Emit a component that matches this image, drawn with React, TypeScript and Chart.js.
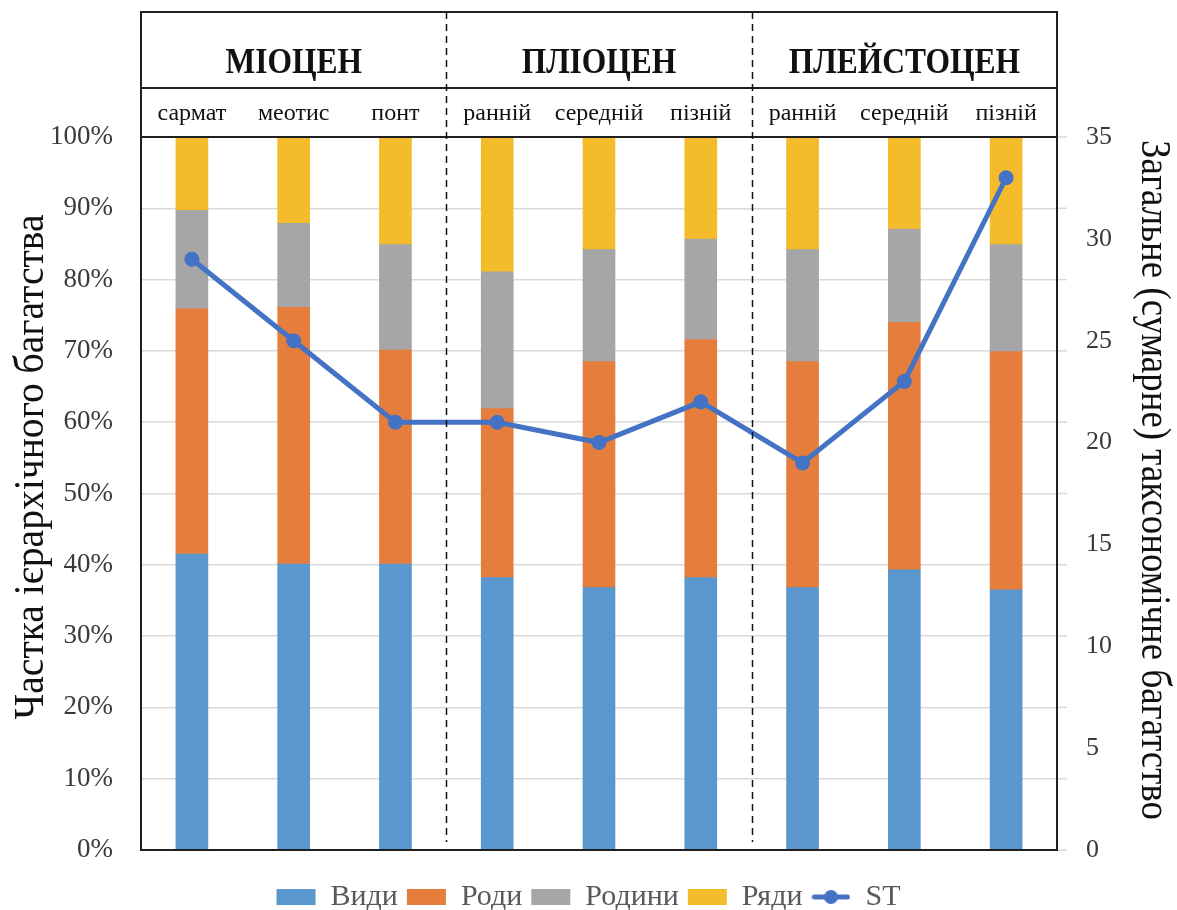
import React, { useEffect, useRef } from 'react';
import { Chart, registerables } from 'chart.js';

Chart.register(...registerables);

// ---------- data ----------
const categories = ['сармат', 'меотис', 'понт', 'ранній', 'середній', 'пізній', 'ранній', 'середній', 'пізній'];
const eras = ['МІОЦЕН', 'ПЛІОЦЕН', 'ПЛЕЙСТОЦЕН'];
const eraSizes = [3, 3, 3];

const vydy = [41.5, 40.1, 40.1, 38.2, 36.8, 38.2, 36.8, 39.3, 36.5];
const rody = [34.4, 36.0, 30.0, 23.7, 31.7, 33.4, 31.7, 34.7, 33.4];
const rodyny = [13.8, 11.8, 14.8, 19.2, 15.7, 14.1, 15.7, 13.1, 15.0];
const riady = [10.3, 12.1, 15.1, 18.9, 15.8, 14.3, 15.8, 12.9, 15.1];
const stValues = [29, 25, 21, 21, 20, 22, 19, 23, 33];

const seriesNames = ['Види', 'Роди', 'Родини', 'Ряди', 'ST'];
const leftTitle = 'Частка ієрархічного багатства';
const rightTitle = 'Загальне (сумарне) таксономічне багатство';

// ---------- styles ----------
const SERIF = '"Liberation Serif", "Times New Roman", serif';
const COLORS = ['#5B97CF', '#E57E3C', '#A6A6A8', '#F4BC2A'];
const LINE_COLOR = '#4472C4';
const GRID = '#d9d9d9';
const W = 1177;
const H = 910;
const HEADER_TOP = 12;
const HEADER_MID = 88;
const ERA_BASELINE = 73;
const LEGEND_SHIFT = 23;

function drawScaledText(ctx: CanvasRenderingContext2D, text: string, x: number, y: number, rot: number, font: string, opts: { scale?: number; length?: number }) {
  ctx.save();
  ctx.font = font;
  const w = ctx.measureText(text).width;
  const sx = opts.length ? opts.length / w : opts.scale || 1;
  ctx.translate(x, y);
  ctx.rotate(rot);
  ctx.scale(sx, 1);
  ctx.textAlign = 'center';
  ctx.textBaseline = 'alphabetic';
  ctx.fillStyle = '#111';
  ctx.fillText(text, 0, 0);
  ctx.restore();
}

const framePlugin = {
  id: 'framePlugin',
  afterLayout(chart: any) {
    const lg = chart.legend;
    if (lg) {
      lg.top += LEGEND_SHIFT;
      lg.bottom += LEGEND_SHIFT;
    }
  },
  afterDraw(chart: any) {
    const ctx: CanvasRenderingContext2D = chart.ctx;
    const { left, right, top, bottom } = chart.chartArea;
    const xs = chart.scales.x;
    const ys = chart.scales.y;
    ctx.save();
    // grid stubs beyond the right border
    ctx.strokeStyle = GRID;
    ctx.lineWidth = 1.5;
    ys.ticks.forEach((_t: any, i: number) => {
      const py = ys.getPixelForTick(i);
      ctx.beginPath();
      ctx.moveTo(right, py);
      ctx.lineTo(right + 10, py);
      ctx.stroke();
    });
    // frame
    ctx.strokeStyle = '#1f1f1f';
    ctx.lineWidth = 2;
    ctx.strokeRect(left, HEADER_TOP, right - left, bottom - HEADER_TOP);
    ctx.beginPath();
    ctx.moveTo(left, HEADER_MID);
    ctx.lineTo(right, HEADER_MID);
    ctx.moveTo(left, top);
    ctx.lineTo(right, top);
    ctx.stroke();
    // dashed separators
    ctx.setLineDash([7, 5]);
    ctx.lineWidth = 1.5;
    ctx.strokeStyle = '#111';
    let idx = 0;
    eraSizes.slice(0, -1).forEach((n) => {
      idx += n;
      const px = Math.round(xs.getPixelForValue(idx - 0.5)) + 0.5;
      ctx.beginPath();
      ctx.moveTo(px, HEADER_TOP);
      ctx.lineTo(px, bottom - 8);
      ctx.stroke();
    });
    ctx.setLineDash([]);
    // era labels
    idx = 0;
    eras.forEach((name, i) => {
      const a = xs.getPixelForValue(idx - 0.5);
      idx += eraSizes[i];
      const b = xs.getPixelForValue(idx - 0.5);
      drawScaledText(ctx, name, (a + b) / 2, ERA_BASELINE, 0, 'bold 35px ' + SERIF, { scale: 0.9 });
    });
    // axis titles
    drawScaledText(ctx, leftTitle, 43, 467, -Math.PI / 2, '42px ' + SERIF, { length: 505 });
    drawScaledText(ctx, rightTitle, 1142, 480, Math.PI / 2, '42px ' + SERIF, { length: 680 });
    ctx.restore();
  },
};

function makeLineLegendImage(): HTMLCanvasElement {
  const c = document.createElement('canvas');
  c.width = 39;
  c.height = 16;
  const g = c.getContext('2d')!;
  g.strokeStyle = LINE_COLOR;
  g.lineWidth = 5;
  g.lineCap = 'round';
  g.beginPath();
  g.moveTo(3, 8);
  g.lineTo(36, 8);
  g.stroke();
  g.fillStyle = LINE_COLOR;
  g.beginPath();
  g.arc(19.5, 8, 7, 0, Math.PI * 2);
  g.fill();
  return c;
}

export default function App() {
  const ref = useRef<HTMLCanvasElement | null>(null);

  useEffect(() => {
    if (!ref.current) return;
    const lineImg = makeLineLegendImage();
    const barSets = [vydy, rody, rodyny, riady].map((d, i) => ({
      type: 'bar' as const,
      label: seriesNames[i],
      data: d,
      backgroundColor: COLORS[i],
      borderWidth: 0,
      barThickness: 32,
      yAxisID: 'y',
      order: 1,
    }));
    const chart = new Chart(ref.current, {
      type: 'bar',
      data: {
        labels: categories,
        datasets: [
          ...barSets,
          {
            type: 'line' as const,
            label: seriesNames[4],
            data: stValues,
            borderColor: LINE_COLOR,
            backgroundColor: LINE_COLOR,
            borderWidth: 5,
            pointRadius: 7.5,
            pointBorderWidth: 0,
            pointBackgroundColor: LINE_COLOR,
            tension: 0,
            yAxisID: 'y1',
            order: 0,
          } as any,
        ],
      },
      options: {
        responsive: false,
        animation: false,
        devicePixelRatio: 1,
        events: [],
        layout: { padding: { top: 0, left: 0, right: 0, bottom: 11 } },
        font: { family: SERIF },
        scales: {
          x: {
            position: 'top',
            stacked: true,
            offset: true,
            grid: { display: false, drawTicks: false },
            border: { display: false },
            ticks: { color: '#111', font: { family: SERIF, size: 24 }, padding: 9, maxRotation: 0, autoSkip: false },
            afterFit: (s: any) => { s.height = 137; },
          },
          y: {
            position: 'left',
            stacked: true,
            min: 0,
            max: 100,
            grid: { color: GRID, lineWidth: 1.5, drawTicks: false },
            border: { display: false },
            ticks: {
              stepSize: 10,
              color: '#3a3a3a',
              padding: 28,
              font: { family: SERIF, size: 27 },
              callback: (v: any) => v + '%',
            },
            afterFit: (s: any) => { s.width = 141; },
          },
          y1: {
            position: 'right',
            min: 0,
            max: 35,
            grid: { display: false, drawTicks: false },
            border: { display: false },
            ticks: { stepSize: 5, color: '#3a3a3a', padding: 29, font: { family: SERIF, size: 26 } },
            afterFit: (s: any) => { s.width = 120; },
          },
        },
        plugins: {
          tooltip: { enabled: false },
          legend: {
            position: 'bottom',
            labels: {
              color: '#595959',
              font: { family: SERIF, size: 30 },
              usePointStyle: true,
              pointStyleWidth: 39,
              boxWidth: 39,
              boxHeight: 16,
              padding: 9,
              sort: (a: any, b: any) => a.datasetIndex - b.datasetIndex,
              generateLabels: (c: any) => {
                const items = Chart.defaults.plugins.legend.labels.generateLabels(c);
                items.forEach((it: any) => {
                  it.lineWidth = 0;
                  it.pointStyle = it.datasetIndex === 4 ? lineImg : 'rect';
                  if (it.datasetIndex === 4) it.fillStyle = LINE_COLOR;
                });
                return items;
              },
            },
          },
        },
      } as any,
      plugins: [framePlugin],
    });
    return () => chart.destroy();
  }, []);

  return (
    <div style={{ position: 'absolute', left: 0, top: 0, width: W, height: H, background: '#fff' }}>
      <canvas ref={ref} width={W} height={H} style={{ display: 'block', width: W, height: H }} />
    </div>
  );
}
